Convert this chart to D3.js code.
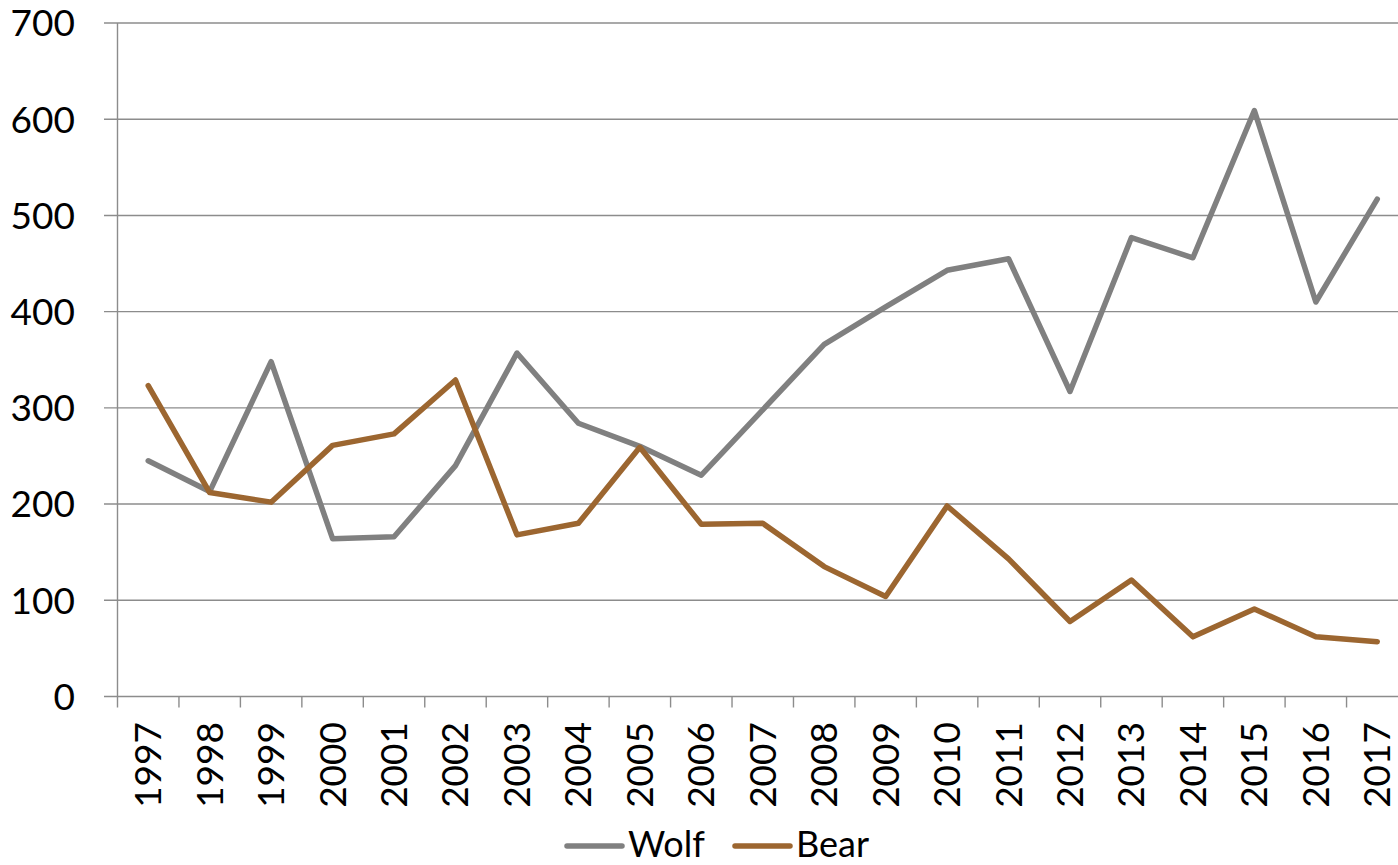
<!DOCTYPE html>
<html><head><meta charset="utf-8">
<script src="https://cdn.jsdelivr.net/npm/d3@7"></script>
<style>body{margin:0;background:#fff}svg{display:block}</style>
</head><body>
<svg id="c" width="1398" height="865"></svg>
<script>
const years = ["1997","1998","1999","2000","2001","2002","2003","2004","2005","2006","2007","2008","2009","2010","2011","2012","2013","2014","2015","2016","2017"];
const wolf = [245,213,348,164,166,240,357,284,260,230,298,366,405,443,455,317,477,456,609,410,517];
const bear = [323,212,202,261,273,329,168,180,259,179,180,135,104,198,143,78,121,62,91,62,57];
const yTicks = [0,100,200,300,400,500,600,700];
const seriesNames = ["Wolf","Bear"];
const colors = ["#808080","#9C6630"];

(function(){
const svg = d3.select("#c");
const font = "Lato, 'Open Sans', sans-serif";
const pL = 117.5, pR = 1408, pT = 23, pB = 696.5;
const x = d3.scaleBand().domain(years).range([pL, pR]);
const y = d3.scaleLinear().domain([0,700]).range([pB, pT]);

svg.append("g").selectAll("line").data(yTicks).join("line")
  .attr("x1", 104).attr("x2", 1398)
  .attr("y1", d=>y(d)).attr("y2", d=>y(d))
  .attr("stroke","#8c8c8c").attr("stroke-width",1.4);
svg.append("line").attr("x1",pL).attr("x2",pL).attr("y1",pT).attr("y2",pB+11)
  .attr("stroke","#8c8c8c").attr("stroke-width",1.4);
svg.append("g").selectAll("line").data(years.slice(1)).join("line")
  .attr("x1", d=>x(d)).attr("x2", d=>x(d)).attr("y1", pB).attr("y2", pB+11)
  .attr("stroke","#8c8c8c").attr("stroke-width",1.4);
svg.append("g").selectAll("text").data(yTicks).join("text")
  .attr("x", 75).attr("y", d=>y(d)).attr("dy","0.36em")
  .attr("text-anchor","end").attr("font-family",font).attr("font-size",37).attr("fill","#000")
  .text(d=>d);
svg.append("g").selectAll("text").data(years).join("text")
  .attr("transform", d=>`translate(${x(d)+x.bandwidth()/2+13},722) rotate(-90)`)
  .attr("text-anchor","end").attr("font-family",font).attr("font-size",37).attr("fill","#000")
  .text(d=>d);

const line = d3.line().x((d,i)=>x(years[i])+x.bandwidth()/2).y(d=>y(d));
[wolf,bear].forEach((s,i)=>{
  svg.append("path").attr("d", line(s)).attr("fill","none")
    .attr("stroke",colors[i]).attr("stroke-width",5.5)
    .attr("stroke-linejoin","round").attr("stroke-linecap","round");
});

const legX = [567, 735];
seriesNames.forEach((n,i)=>{
  svg.append("line").attr("x1",legX[i]).attr("x2",legX[i]+55).attr("y1",846).attr("y2",846)
    .attr("stroke",colors[i]).attr("stroke-width",5.5).attr("stroke-linecap","round");
  svg.append("text").attr("x",legX[i]+61).attr("y",857)
    .attr("font-family",font).attr("font-size",36).attr("fill","#000").text(n);
});
})();
</script>
</body></html>
